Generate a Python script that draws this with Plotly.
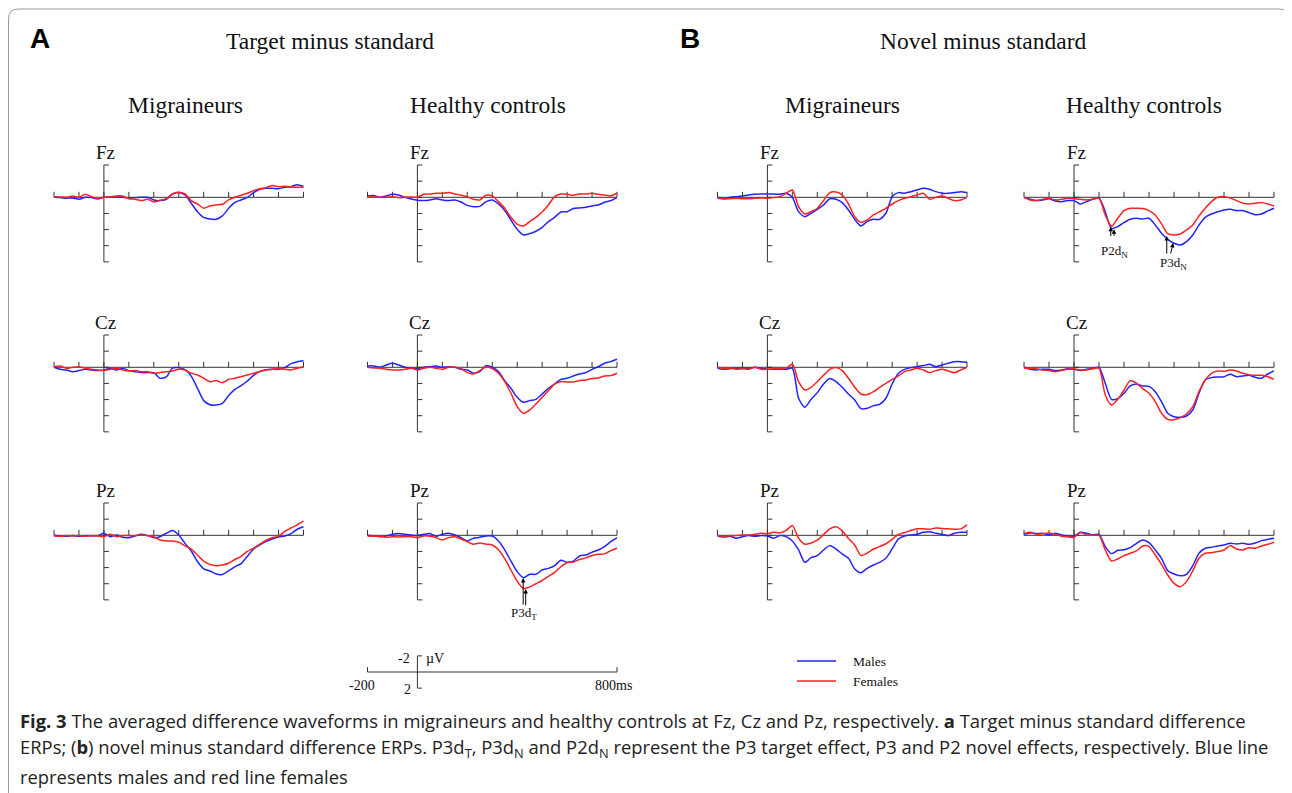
import plotly.graph_objects as go

# reference canvas is 1292x793; the page body adds an 8px margin
REF_W, REF_H = 1292, 793
OFF = 8
W, H = REF_W - OFF, REF_H - OFF

# ---------------- data (µV, positive plotted downward) ----------------
T = list(range(-200, 801, 25))            # ms
XTICKS = list(range(-200, 801, 100))      # ms
YTICKS = [-4, -2, 0, 2, 4, 6, 8]          # µV
SCALE_T = [-200, 800]
SCALE_V = [-2, 2]

# A: target minus standard
TGT_MIG_FZ_M = [0, 0.04, 0.12, 0.08, 0.25, 0, 0.04, 0.21, 0,
                -0.04, -0.08, 0, 0.08, 0.04, 0, 0, 0.33,
                0.41, 0.25, -0.41, -0.58, -0.29, 0.74, 1.78, 2.48,
                2.69, 2.73, 2.31, 1.36, 0.62, 0.33, 0, -0.58,
                -0.99, -1.12, -1.12, -1.07, -1.24, -1.32, -1.57, -1.36]
TGT_MIG_FZ_F = [-0.08, -0.04, 0, -0.17, 0, -0.37, -0.08, 0.12, 0,
                -0.04, -0.17, -0.17, 0.17, 0.25, 0.41, 0.25, 0.58,
                0.37, 0.17, -0.41, -0.62, -0.41, 0.41, 0.83, 1.36,
                1.07, 0.95, 0.87, 0.33, 0, -0.25, -0.5, -0.83,
                -1.07, -1.2, -1.45, -1.32, -1.36, -1.28, -1.24, -1.24]
TGT_HC_FZ_M = [-0.17, -0.21, 0, -0.17, -0.37, -0.29, 0, 0.21, 0.37,
               0.41, 0.33, 0.17, 0.33, 0.41, 0.33, 0.58, 1.0,
               1.16, 1.12, 0.54, 0.33, 0.83, 1.65, 2.81, 3.97,
               4.67, 4.5, 4.21, 3.72, 3.02, 2.48, 1.82, 1.78,
               1.4, 1.32, 1.24, 1.07, 0.95, 0.62, 0.41, 0]
TGT_HC_FZ_F = [0, -0.08, 0, 0, -0.08, 0.04, 0, -0.04, 0,
               -0.37, -0.41, -0.5, -0.5, -0.58, -0.41, -0.25, -0.08,
               0.25, 0.33, -0.25, -0.17, 0.54, 1.36, 2.48, 3.31,
               3.55, 3.02, 2.48, 1.82, 0.95, -0.08, -0.41, -0.37,
               -0.25, -0.41, -0.41, -0.5, -0.37, -0.29, -0.17, -0.5]
TGT_MIG_CZ_M = [0, 0.25, 0.33, 0.54, 0.41, 0.25, 0.33, 0.41, 0.33,
                0.12, 0.33, 0.12, 0.41, 0.54, 0.66, 0.66, 0.66,
                1.36, 1.2, 0.1, 0.04, 0.3, 1.1, 2.6, 4.13,
                4.63, 4.67, 4.46, 3.5, 2.73, 2.27, 1.7, 1.0,
                0.5, 0.3, 0.25, 0.25, 0.04, -0.45, -0.7, -0.8]
TGT_MIG_CZ_F = [-0.08, -0.17, 0.12, 0, -0.08, 0.12, 0.25, 0.33, 0.41,
                0.25, 0.12, 0.33, 0.45, 0.41, 0.54, 0.54, 0.74,
                0.66, 0.54, 0.45, 0.25, 0.33, 0.74, 0.95, 1.36,
                1.78, 1.65, 1.9, 1.49, 1.36, 1.16, 0.95, 0.74,
                0.54, 0.33, 0.25, 0.17, 0.25, 0.33, 0.12, -0.08]
TGT_HC_CZ_M = [-0.17, -0.17, 0, -0.29, -0.5, -0.29, 0, 0.12, 0.17,
               0, -0.08, -0.17, 0, -0.08, 0, 0.25, 0.33,
               0.74, 0.54, -0.21, 0, 0.54, 1.65, 2.6, 3.72,
               4.34, 4.13, 3.97, 3.31, 2.6, 2.07, 1.49, 1.36,
               1.07, 0.83, 0.66, 0.25, -0.08, -0.5, -0.7, -0.99]
TGT_HC_CZ_F = [0, 0.08, 0.12, 0.25, 0.33, 0.33, 0.25, 0.12, 0.33,
               0.12, 0, 0.12, 0.25, 0, 0, 0.17, 0.66,
               0.83, 0.41, -0.08, 0.17, 0.74, 1.78, 3.22, 4.88,
               5.7, 5.29, 4.55, 3.72, 2.89, 2.07, 1.78, 1.82,
               1.82, 1.65, 1.57, 1.4, 1.32, 1.07, 1.03, 0.74]
TGT_MIG_PZ_M = [0, 0.08, 0.12, 0.04, 0.12, 0.04, 0.08, 0.04, -0.25,
                0.17, -0.04, 0.25, 0.29, 0.08, -0.12, 0.04, 0.29,
                0.17, -0.25, -0.58, -0.04, 1.0, 1.95, 3.25, 4.15,
                4.42, 4.8, 4.85, 4.4, 3.9, 3.5, 2.6, 1.7,
                1.2, 0.75, 0.45, 0.2, 0.1, -0.2, -0.75, -1.05]
TGT_MIG_PZ_F = [0.08, 0.12, 0.04, 0.08, 0.04, 0.12, 0.04, 0.08, 0.17,
                -0.12, 0.17, 0.04, 0.04, 0.04, -0.04, 0.04, 0.17,
                0.58, 0.7, 0.7, 0.85, 1.3, 1.7, 2.45, 3.2,
                3.6, 3.76, 3.68, 3.47, 3.0, 2.6, 2.0, 1.6,
                1.1, 0.6, 0.3, 0.1, -0.5, -0.9, -1.3, -1.75]
TGT_HC_PZ_M = [0, 0.08, 0.17, 0.08, -0.12, -0.21, -0.12, -0.04, 0.04,
               -0.12, -0.21, 0.12, -0.12, -0.25, -0.04, 0.29, 0.7,
               0.37, 0.25, 0.08, 0.08, 0.7, 1.8, 3.2, 4.5,
               5.25, 4.83, 4.83, 4.3, 4.1, 3.76, 3.1, 3.35,
               3.2, 2.56, 2.44, 2.1, 1.82, 1.4, 0.79, 0.29]
TGT_HC_PZ_F = [0.08, 0.12, 0.12, 0.25, 0.17, 0.2, 0.17, 0.17, 0.29,
               0.08, 0.12, 0.29, 0.58, 0.29, 0.17, 0.45, 0.8,
               1.1, 0.95, 1.1, 1.2, 1.8, 2.9, 4.3, 5.7,
               6.6, 6.4, 6.0, 5.6, 5.1, 4.6, 3.9, 3.4,
               3.3, 3.0, 2.8, 2.5, 2.35, 2.3, 1.9, 1.6]

# B: novel minus standard
NOV_MIG_FZ_M = [0, 0.17, 0, -0.08, -0.17, -0.29, -0.37, -0.41, -0.41,
                -0.41, -0.37, -0.5, 0, 1.78, 2.4, 1.98, 1.49,
                0.95, 0.17, 0.25, 0.66, 1.57, 2.73, 3.55, 3.02,
                2.73, 2.73, 1.98, -0.08, -0.58, -0.5, -0.7, -0.91,
                -1.12, -0.99, -0.7, -0.5, -0.5, -0.58, -0.7, -0.58]
NOV_MIG_FZ_F = [0.12, 0.21, 0.17, 0.12, 0.17, 0.17, 0.12, 0.08, 0.12,
                0.04, -0.08, -0.5, -0.91, 1.16, 2.07, 1.78, 1.36,
                0.41, -0.58, -0.66, -0.29, 0.83, 2.4, 3.1, 2.81,
                2.19, 1.78, 1.36, 0.83, 0.41, 0.12, -0.08, -0.29,
                -0.5, 0.25, 0, -0.17, 0.12, 0.41, 0.33, 0]
NOV_HC_FZ_M = [0, 0.25, 0.41, 0.33, 0.17, 0.45, 0.54, 0.41, 0.41,
               0.83, 0.54, 0.25, 0.12, 1.78, 3.88, 3.64, 3.14,
               2.73, 2.6, 2.69, 2.6, 3.43, 4.46, 5.21, 5.7,
               5.91, 5.5, 4.67, 3.43, 2.48, 2.07, 1.78, 1.57,
               1.49, 1.65, 1.65, 1.9, 2.15, 2.07, 1.69, 1.36]
NOV_HC_FZ_F = [0, 0.33, 0.41, 0.25, 0.12, 0.33, 0.25, 0.12, 0.17,
               0.25, 0.33, 0.25, 0.12, 2.19, 3.6, 2.6, 1.65,
               1.36, 1.36, 1.4, 1.65, 2.2, 3.3, 4.5, 4.67,
               4.55, 4.05, 3.43, 2.31, 1.36, 0.54, 0, -0.08,
               0.08, 0.41, 0.74, 0.83, 0.74, 0.66, 0.83, 1.07]
NOV_MIG_CZ_M = [0.12, 0.25, 0.17, 0.12, 0.08, 0.12, 0, 0.12, 0.25,
                0.25, 0.25, 0.25, 0.12, 3.84, 4.96, 3.97, 3.14,
                2.07, 1.4, 1.78, 2.48, 3.31, 4.05, 5.12, 5.08,
                4.75, 4.59, 3.84, 2.07, 0.74, 0.25, 0.04, -0.08,
                -0.21, -0.37, -0.08, -0.29, -0.5, -0.7, -0.7, -0.62]
NOV_MIG_CZ_F = [0, 0.17, 0.08, 0.25, 0.17, 0.25, 0, 0.25, 0.25,
                0.17, 0.17, 0.12, -0.37, 1.78, 2.81, 2.48, 1.78,
                0.99, 0.25, 0.04, 0.41, 1.36, 2.48, 3.31, 3.39,
                3.02, 2.48, 1.98, 1.49, 1.07, 0.54, 0.33, 0.12,
                0.33, 0.66, 0.41, 0.25, 0.45, 0.66, 0.33, 0]
NOV_HC_CZ_M = [0, 0.25, 0.33, 0.25, 0.25, 0.41, 0.33, 0.17, 0.25,
               0.41, 0.25, 0.12, 0, 1.98, 3.97, 3.88, 3.22,
               2.31, 2.07, 2.31, 2.36, 3.02, 4.26, 5.7, 6.12,
               6.2, 6.03, 5.29, 3.22, 1.57, 1.28, 1.2, 1.16,
               0.87, 1.16, 1.07, 0.99, 1.24, 1.36, 0.83, 0.45]
NOV_HC_CZ_F = [0.08, 0.12, 0.17, 0.33, 0.41, 0.54, 0.41, 0.25, 0.17,
               0.33, 0.33, 0.17, 0.12, 3.43, 4.67, 3.97, 2.81,
               1.65, 1.98, 2.64, 3.22, 4.26, 5.7, 6.45, 6.49,
               6.24, 5.79, 4.88, 3.02, 1.57, 0.74, 0.45, 0.5,
               0.33, 0.45, 0.74, 0.91, 0.99, 0.99, 1.16, 1.49]
NOV_MIG_PZ_M = [0.08, 0.21, 0.12, 0.37, 0.17, 0.04, 0.12, 0.04, 0.08,
                0.37, 0.04, 0.17, 0.7, 1.82, 3.35, 2.77, 2.52,
                1.82, 1.28, 1.7, 2.31, 2.85, 4.17, 4.63, 4.09,
                3.68, 3.35, 2.85, 1.69, 0.45, 0.08, -0.04, -0.12,
                -0.37, -0.45, -0.25, -0.12, 0.04, -0.25, -0.37, -0.37]
NOV_MIG_PZ_F = [0.04, 0.12, 0.04, 0.04, -0.04, -0.04, -0.12, -0.25, -0.2,
                -0.37, -0.3, -0.6, -1.2, 0.37, 1.1, 0.95, 0.6,
                -0.1, -0.8, -1.05, -0.55, 0.4, 1.2, 2.5, 2.2,
                1.7, 1.4, 1.05, 0.5, -0.1, -0.35, -0.6, -0.8,
                -0.8, -0.75, -0.9, -0.85, -0.8, -0.75, -0.8, -1.3]
NOV_HC_PZ_M = [-0.12, -0.29, -0.21, -0.25, -0.04, -0.25, -0.04, 0.08, 0.12,
               -0.37, -0.25, -0.04, -0.12, 1.4, 2.27, 1.86, 1.78,
               1.53, 0.99, 0.58, 0.91, 1.82, 2.85, 4.38, 4.79,
               5.0, 4.83, 3.76, 2.23, 1.61, 1.49, 1.32, 1.2,
               0.99, 1.07, 0.99, 1.12, 0.95, 0.66, 0.5, 0.37]
NOV_HC_PZ_F = [-0.2, -0.37, -0.12, -0.2, -0.29, -0.12, 0.12, 0.2, 0.25,
               -0.33, -0.04, 0, 0, 1.82, 3.18, 2.93, 2.52,
               2.23, 1.94, 1.32, 1.4, 2.44, 3.6, 4.92, 5.95,
               6.36, 5.74, 4.42, 2.85, 2.23, 2.15, 2.02, 1.82,
               1.28, 1.69, 1.82, 1.53, 1.61, 1.32, 1.12, 0.87]

ELECTRODES = ["Fz", "Cz", "Pz"]
GROUPS = ["Migraineurs", "Healthy controls"]
SECTIONS = [("A", "Target minus standard"), ("B", "Novel minus standard")]

# (column, row, males, females)
PANELS = [
    (0, 0, TGT_MIG_FZ_M, TGT_MIG_FZ_F), (1, 0, TGT_HC_FZ_M, TGT_HC_FZ_F),
    (2, 0, NOV_MIG_FZ_M, NOV_MIG_FZ_F), (3, 0, NOV_HC_FZ_M, NOV_HC_FZ_F),
    (0, 1, TGT_MIG_CZ_M, TGT_MIG_CZ_F), (1, 1, TGT_HC_CZ_M, TGT_HC_CZ_F),
    (2, 1, NOV_MIG_CZ_M, NOV_MIG_CZ_F), (3, 1, NOV_HC_CZ_M, NOV_HC_CZ_F),
    (0, 2, TGT_MIG_PZ_M, TGT_MIG_PZ_F), (1, 2, TGT_HC_PZ_M, TGT_HC_PZ_F),
    (2, 2, NOV_MIG_PZ_M, NOV_MIG_PZ_F), (3, 2, NOV_HC_PZ_M, NOV_HC_PZ_F),
]

# ---------------- styling / layout geometry (reference pixel coords) ----------------
BLUE = "#2323ff"
RED = "#ff2020"
AXC = "#333333"
SERIF = "Liberation Serif, 'Times New Roman', serif"
SANS = "Liberation Sans, Arial, sans-serif"
CAPF = "Open Sans, 'Noto Sans', sans-serif"

COLS = [(54.0, 303.5), (367.5, 617.0), (717.5, 967.0), (1024.0, 1274.0)]
ROWS = [197.3, 367.3, 535.3]
S = 8.07                      # px per µV
XR = [-212, 812]
YR = [8.5, -4.5]


def px(x):
    return (x - OFF) / W


def py(y):
    return 1 - (y - OFF) / H


def xdom(left, right):
    k = (right - left) / 1000.0
    return [px(left + (XR[0] + 200) * k), px(left + (XR[1] + 200) * k)]


def ydom(zero):
    return [py(zero + YR[0] * S), py(zero + YR[1] * S)]


fig = go.Figure()
layout = {}
shapes = []
ann = []


def axid(i):
    return ("x", "y") if i == 1 else (f"x{i}", f"y{i}")


def ptext(x, y, text, font, xanchor="center"):
    return dict(xref="paper", yref="paper", x=px(x), y=py(y), text=text, showarrow=False,
                xanchor=xanchor, yanchor="middle", font=font)


for i, (c, r, males, females) in enumerate(PANELS, start=1):
    xr_, yr_ = axid(i)
    xname = "xaxis" if i == 1 else f"xaxis{i}"
    yname = "yaxis" if i == 1 else f"yaxis{i}"
    left, right = COLS[c]
    layout[xname] = dict(domain=xdom(left, right), range=XR, visible=False,
                         anchor=yr_, fixedrange=True)
    layout[yname] = dict(domain=ydom(ROWS[r]), range=YR, visible=False,
                         anchor=xr_, fixedrange=True)
    ax_line = dict(color=AXC, width=1)
    shapes.append(dict(type="line", xref=xr_, yref=yr_, x0=XTICKS[0], x1=XTICKS[-1],
                       y0=0, y1=0, line=ax_line, layer="below"))
    for t in XTICKS:
        shapes.append(dict(type="line", xref=xr_, yref=yr_, x0=t, x1=t, y0=0, y1=-0.68,
                           line=ax_line, layer="below"))
    shapes.append(dict(type="line", xref=xr_, yref=yr_, x0=0, x1=0,
                       y0=YTICKS[0], y1=YTICKS[-1], line=ax_line, layer="below"))
    for v in YTICKS:
        shapes.append(dict(type="line", xref=xr_, yref=yr_, x0=0, x1=20, y0=v, y1=v,
                           line=ax_line, layer="below"))
    fig.add_trace(go.Scatter(x=T, y=males, xaxis=xr_, yaxis=yr_, mode="lines",
                             name="Males", showlegend=False, hoverinfo="skip",
                             line=dict(color=BLUE, width=1.5, shape="spline", smoothing=0.7)))
    fig.add_trace(go.Scatter(x=T, y=females, xaxis=xr_, yaxis=yr_, mode="lines",
                             name="Females", showlegend=False, hoverinfo="skip",
                             line=dict(color=RED, width=1.5, shape="spline", smoothing=0.7)))
    zero_x = left + 0.2 * (right - left)
    ann.append(ptext(zero_x + 2, ROWS[r] - 45, ELECTRODES[r],
                     dict(family=SERIF, size=19, color="#111")))

# ---------------- scale bar (own axes, same x scale as column 2) ----------------
SB = 13
SB_ZERO = 672.0
layout[f"xaxis{SB}"] = dict(domain=xdom(*COLS[1]), range=XR, visible=False,
                            anchor=f"y{SB}", fixedrange=True)
layout[f"yaxis{SB}"] = dict(domain=[py(SB_ZERO + 3.0 * S), py(SB_ZERO - 3.0 * S)],
                            range=[3.0, -3.0], visible=False, anchor=f"x{SB}", fixedrange=True)
sbx, sby = f"x{SB}", f"y{SB}"
lineS = dict(color=AXC, width=1)
shapes.append(dict(type="line", xref=sbx, yref=sby, x0=SCALE_T[0], x1=SCALE_T[1], y0=0, y1=0, line=lineS))
for t in SCALE_T:
    shapes.append(dict(type="line", xref=sbx, yref=sby, x0=t, x1=t, y0=0, y1=-0.6, line=lineS))
shapes.append(dict(type="line", xref=sbx, yref=sby, x0=0, x1=0, y0=SCALE_V[0], y1=SCALE_V[1], line=lineS))
for v in SCALE_V:
    shapes.append(dict(type="line", xref=sbx, yref=sby, x0=0, x1=18, y0=v, y1=v, line=lineS))
sbfont = dict(family=SERIF, size=14, color="#111")
ann += [
    ptext(412, 658, "-2", sbfont, "right"),
    ptext(424, 658, "µV", sbfont, "left"),
    ptext(413, 689, "2", sbfont, "right"),
    ptext(362, 685, "-200", sbfont),
    ptext(613, 685, "800ms", sbfont),
]

# ---------------- legend (manual) ----------------
for yy, col, lab in [(661, BLUE, "Males"), (681, RED, "Females")]:
    shapes.append(dict(type="line", xref="paper", yref="paper", x0=px(797), x1=px(836),
                       y0=py(yy), y1=py(yy), line=dict(color=col, width=1.5)))
    ann.append(ptext(851, yy, lab, dict(family=SERIF, size=13.5, color="#111"), "left"))

# ---------------- peak markers ----------------
arrow = dict(showarrow=True, arrowhead=2, arrowsize=0.9, arrowwidth=1, arrowcolor="#000", text="")
pB = axid(4)   # novel, healthy, Fz
pA = axid(10)  # target, healthy, Pz
ann += [
    dict(xref=pB[0], yref=pB[1], x=147, y=3.64, ax=0, ay=11, **arrow),
    dict(xref=pB[0], yref=pB[1], x=160, y=3.97, ax=0, ay=8, **arrow),
    dict(xref=pB[0], yref=pB[1], x=371, y=4.8, ax=0, ay=19, **arrow),
    dict(xref=pB[0], yref=pB[1], x=397, y=5.65, ax=-3, ay=12, **arrow),
    dict(xref=pA[0], yref=pA[1], x=424, y=5.3, ax=0, ay=28, **arrow),
    dict(xref=pA[0], yref=pA[1], x=434, y=6.64, ax=0, ay=18, **arrow),
]
lblf = dict(family=SERIF, size=13, color="#111")
ann += [
    ptext(1114, 252, "P2d<sub>N</sub>", lblf),
    ptext(1173, 264, "P3d<sub>N</sub>", lblf),
    ptext(524, 613, "P3d<sub>T</sub>", lblf),
]

# ---------------- headings ----------------
titlef = dict(family=SERIF, size=23.5, color="#111")
for (letter, title), lx, tx in zip(SECTIONS, [39.5, 690], [330, 983]):
    ann.append(ptext(lx, 39, f"<b>{letter}</b>", dict(family=SANS, size=28, color="#000")))
    ann.append(ptext(tx, 41, title, titlef))
for c, cx in enumerate([186, 488, 842, 1144]):
    ann.append(ptext(cx, 105, GROUPS[c % 2], titlef))

# ---------------- caption ----------------
CAPTION = [
    "<b>Fig. 3</b> The averaged difference waveforms in migraineurs and healthy controls at Fz, Cz and Pz, "
    "respectively. <b>a</b> Target minus standard difference",
    "ERPs; (<b>b</b>) novel minus standard difference ERPs. P3d<sub>T</sub>, P3d<sub>N</sub> and "
    "P2d<sub>N</sub> represent the P3 target effect, P3 and P2 novel effects, respectively. Blue line",
    "represents males and red line females",
]
for k, line in enumerate(CAPTION):
    ann.append(ptext(18, 720 + 28 * k, line, dict(family=CAPF, size=18.4, color="#222"), "left"))

# ---------------- frame ----------------
x0, x1, yt, yb, rr = 8.5, 1289, 9, 820, 10
frame = (f"M {px(x0)},{py(yb)} L {px(x0)},{py(yt + rr)} Q {px(x0)},{py(yt)} {px(x0 + rr)},{py(yt)} "
         f"L {px(x1 - rr)},{py(yt)} Q {px(x1)},{py(yt)} {px(x1)},{py(yt + rr)} L {px(x1)},{py(yb)}")
shapes.append(dict(type="path", xref="paper", yref="paper", path=frame,
                   line=dict(color="#9a9a9a", width=1)))

fig.update_layout(
    width=W, height=H, margin=dict(l=0, r=0, t=0, b=0),
    paper_bgcolor="white", plot_bgcolor="rgba(0,0,0,0)",
    showlegend=False, shapes=shapes, annotations=ann, **layout,
)
fig.write_html("out.html")
